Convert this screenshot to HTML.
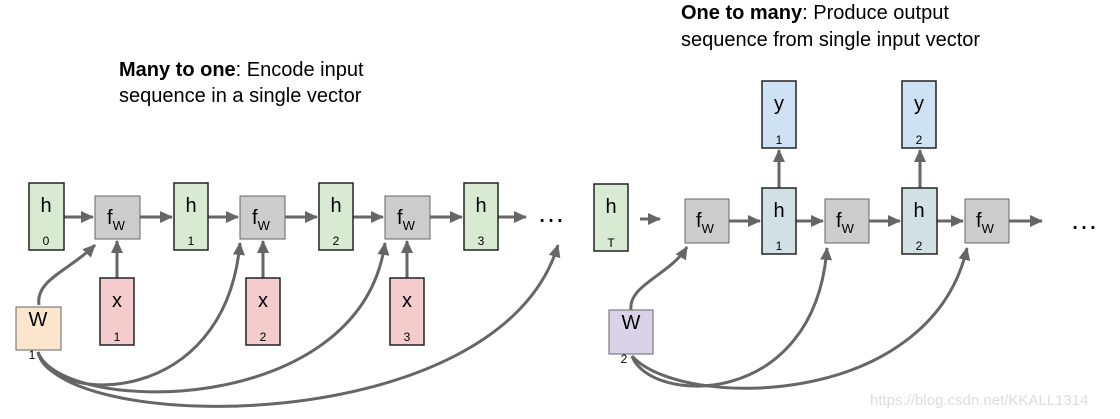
<!DOCTYPE html>
<html><head><style>body{margin:0;background:#fff}svg{display:block}text{font-family:"Liberation Sans",Arial,sans-serif}</style></head>
<body>
<svg width="1120" height="419" viewBox="0 0 1120 419" xmlns="http://www.w3.org/2000/svg">
<defs><marker id="b" markerWidth="14" markerHeight="14" refX="12" refY="7" orient="auto" markerUnits="userSpaceOnUse"><path d="M0,1 L13,7 L0,13 z" fill="#666"/></marker></defs>
<text x="119" y="76" font-size="20"><tspan font-weight="bold">Many to one</tspan>: Encode input</text>
<text x="119" y="102" font-size="20">sequence in a single vector</text>
<text x="681" y="19" font-size="20"><tspan font-weight="bold">One to many</tspan>: Produce output</text>
<text x="681" y="46" font-size="20">sequence from single input vector</text>
<g stroke="#666" stroke-width="3" fill="none">
<line x1="64" y1="217" x2="93" y2="217" marker-end="url(#b)"/>
<line x1="140" y1="217" x2="172" y2="217" marker-end="url(#b)"/>
<line x1="208" y1="217" x2="238" y2="217" marker-end="url(#b)"/>
<line x1="285" y1="217" x2="317" y2="217" marker-end="url(#b)"/>
<line x1="353" y1="217" x2="383" y2="217" marker-end="url(#b)"/>
<line x1="430" y1="217" x2="462" y2="217" marker-end="url(#b)"/>
<line x1="498" y1="217" x2="526" y2="217" marker-end="url(#b)"/>
<line x1="640" y1="219" x2="660" y2="219" marker-end="url(#b)"/>
<line x1="117" y1="278" x2="117" y2="241" marker-end="url(#b)"/>
<line x1="263" y1="278" x2="263" y2="241" marker-end="url(#b)"/>
<line x1="407" y1="278" x2="407" y2="241" marker-end="url(#b)"/>
<line x1="729" y1="221" x2="760" y2="221" marker-end="url(#b)"/>
<line x1="795" y1="221" x2="823" y2="221" marker-end="url(#b)"/>
<line x1="869" y1="221" x2="900" y2="221" marker-end="url(#b)"/>
<line x1="937" y1="221" x2="963" y2="221" marker-end="url(#b)"/>
<line x1="1009" y1="221" x2="1042" y2="221" marker-end="url(#b)"/>
<line x1="779" y1="188" x2="779" y2="150" marker-end="url(#b)"/>
<line x1="920" y1="188" x2="920" y2="150" marker-end="url(#b)"/>
<path d="M39,305 C35,280 70,270 95,245" marker-end="url(#b)"/>
<path d="M38,352 C50,405 225,410 240,243" marker-end="url(#b)"/>
<path d="M38,352 C60,415 360,420 385,243" marker-end="url(#b)"/>
<path d="M38,352 C60,435 500,440 558,245" marker-end="url(#b)"/>
<path d="M631,310 C628,285 670,275 687,247" marker-end="url(#b)"/>
<path d="M632,356 C650,405 815,410 827,248" marker-end="url(#b)"/>
<path d="M632,356 C680,410 930,410 967,248" marker-end="url(#b)"/>
</g>
<g stroke="#222" stroke-width="1.5">
<rect x="29" y="183" width="35" height="67" fill="#d9ead3"/>
<rect x="174" y="183" width="34" height="67" fill="#d9ead3"/>
<rect x="319" y="183" width="34" height="67" fill="#d9ead3"/>
<rect x="464" y="183" width="34" height="67" fill="#d9ead3"/>
<rect x="594" y="184" width="34" height="67" fill="#d9ead3"/>
<rect x="100" y="278" width="34" height="67" fill="#f4cccc"/>
<rect x="246" y="278" width="34" height="67" fill="#f4cccc"/>
<rect x="390" y="278" width="34" height="67" fill="#f4cccc"/>
<rect x="762" y="81" width="34" height="67" fill="#cfe2f3"/>
<rect x="902" y="81" width="34" height="67" fill="#cfe2f3"/>
<rect x="762" y="188" width="34" height="66" fill="#d0e0e3"/>
<rect x="902" y="188" width="35" height="66" fill="#d0e0e3"/>
</g>
<g stroke="#666" stroke-width="1">
<rect x="95" y="196" width="45" height="43" fill="#cccccc"/>
<rect x="240" y="196" width="45" height="43" fill="#cccccc"/>
<rect x="385" y="196" width="45" height="43" fill="#cccccc"/>
<rect x="685" y="199" width="44" height="44" fill="#cccccc"/>
<rect x="825" y="199" width="44" height="44" fill="#cccccc"/>
<rect x="965" y="199" width="44" height="44" fill="#cccccc"/>
<rect x="16" y="307" width="45" height="43" fill="#fce5cd"/>
<rect x="609" y="310" width="44" height="44" fill="#d9d2e9"/>
</g>
<g font-size="20" text-anchor="middle" fill="#000">
<text x="46" y="212">h</text><text x="191" y="212">h</text><text x="336" y="212">h</text><text x="481" y="212">h</text><text x="611" y="213">h</text>
<text x="117" y="307">x</text><text x="263" y="307">x</text><text x="407" y="307">x</text>
<text x="779" y="110">y</text><text x="919" y="110">y</text>
<text x="779" y="217">h</text><text x="919" y="217">h</text>
<text x="38" y="326">W</text><text x="631" y="329">W</text>
</g>
<g font-size="28" text-anchor="middle" fill="#000">
<text x="551" y="222">…</text><text x="1084" y="229">…</text>
</g>
<g font-size="12" text-anchor="middle" fill="#000">
<text x="46" y="245">0</text><text x="191" y="245">1</text><text x="336" y="245">2</text><text x="481" y="245">3</text><text x="611" y="247">T</text>
<text x="117" y="341">1</text><text x="263" y="341">2</text><text x="407" y="341">3</text>
<text x="779" y="144">1</text><text x="919" y="144">2</text>
<text x="779" y="250">1</text><text x="919" y="250">2</text>
<text x="32" y="359">1</text><text x="624" y="363">2</text>
</g>
<g font-size="20" fill="#000">
<text x="107" y="224">f<tspan font-size="13" dy="6">W</tspan></text>
<text x="252" y="224">f<tspan font-size="13" dy="6">W</tspan></text>
<text x="397" y="224">f<tspan font-size="13" dy="6">W</tspan></text>
<text x="696" y="227">f<tspan font-size="13" dy="6">W</tspan></text>
<text x="836" y="227">f<tspan font-size="13" dy="6">W</tspan></text>
<text x="976" y="227">f<tspan font-size="13" dy="6">W</tspan></text>
</g>
<text x="870" y="405" font-size="15" fill="#ddd">https://blog.csdn.net/KKALL1314</text>
</svg>
</body></html>
